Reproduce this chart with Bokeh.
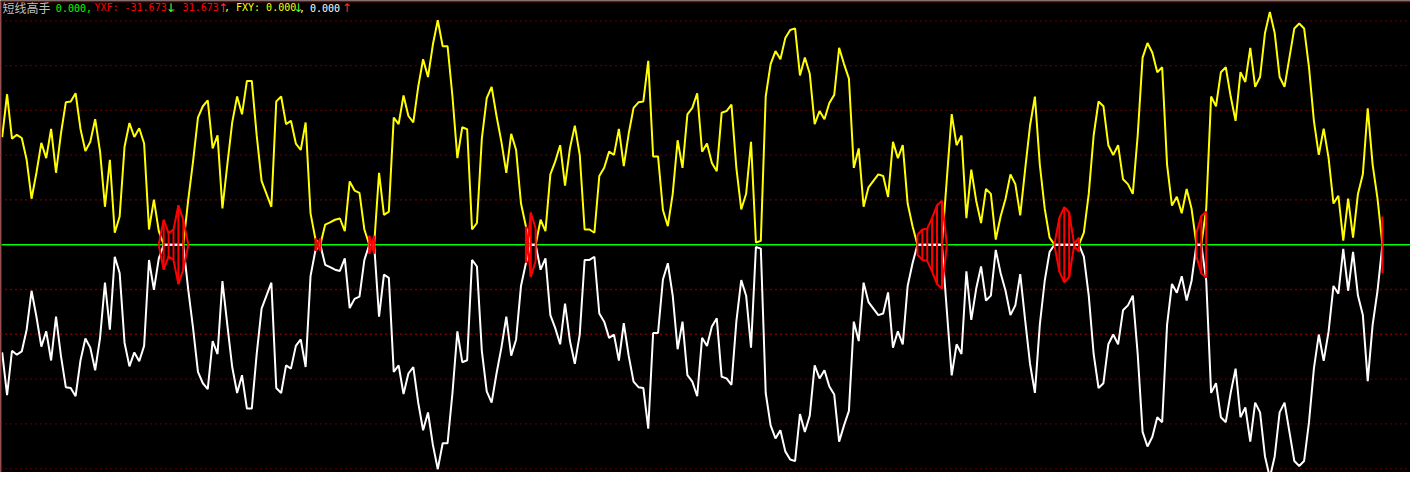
import numpy as np
from bokeh.plotting import figure
from bokeh.models import Range1d, Span, Label, ColumnDataSource
from bokeh.embed import file_html
from bokeh.resources import INLINE

# FXY (yellow line); the white line is its mirror -FXY
fxy = [120.3, 168.1, 118.5, 122.8, 119.2, 94.9, 51.4, 80.4, 113.8, 96.7,
       129.3, 80.4, 123.9, 159.1, 160.1, 169.2, 129.3, 104.7, 114.9, 140.2,
       104.0, 42.4, 94.9, 13.4, 31.5, 109.4, 135.9, 120.3, 130.1, 113.0,
       17.0, 50.4, 15.2, 0, 0, 0, 0, 0, 49.6, 93.1,
       142.0, 154.7, 161.2, 107.6, 122.1, 40.6, 89.5, 136.6, 165.6, 145.7,
       183.0, 183.0, 122.1, 71.4, 56.9, 42.4, 160.1, 165.6, 134.8, 138.4,
       113.0, 105.8, 136.6, 35.1, 6.2, 0, 22.5, 25.0, 27.9, 29.3,
       15.2, 70.7, 60.5, 58.0, 17.0, 0, 0, 80.4, 33.3, 37.0,
       142.0, 134.8, 166.7, 143.8, 136.6, 176.4, 207.2, 187.3, 223.6, 250.7,
       221.7, 221.7, 165.6, 96.7, 131.2, 129.0, 17.0, 24.3, 118.5, 163.8,
       176.4, 143.8, 114.9, 80.4, 123.9, 105.8, 46.0, 20.7, 0, 0,
       27.9, 15.2, 78.6, 93.1, 111.2, 65.9, 107.6, 133.0, 100.4, 17.0,
       17.0, 13.4, 76.8, 85.9, 104.0, 100.4, 129.3, 87.7, 123.9, 152.9,
       159.1, 160.1, 205.4, 98.6, 98.6, 38.8, 20.7, 56.9, 116.7, 85.9,
       145.7, 152.9, 169.2, 104.0, 113.0, 91.3, 82.2, 147.5, 149.3, 156.5,
       85.9, 39.5, 56.9, 114.9, 2.5, 4.3, 165.6, 201.8, 216.3, 207.2,
       230.8, 239.9, 241.7, 189.1, 209.1, 190.9, 134.8, 149.3, 140.2, 158.3,
       167.4, 219.9, 201.8, 185.5, 85.9, 107.6, 42.4, 64.1, 71.4, 78.6,
       76.8, 53.3, 114.9, 96.7, 111.2, 46.0, 20.7, 0, 0, 0,
       0, 0, 0, 73.2, 145.9, 111.2, 122.0, 29.7, 84.0, 49.2,
       24.2, 62.3, 56.8, 5.8, 31.8, 51.4, 78.6, 67.7, 32.9, 84.0,
       132.9, 165.5, 89.5, 40.5, 7.9, 0, 0, 0, 0, 0,
       0, 13.4, 56.8, 122.0, 160.0, 154.7, 111.2, 100.3, 111.2, 73.2,
       67.7, 56.8, 122.0, 209.0, 225.3, 214.5, 192.7, 198.2, 89.5, 43.8,
       53.6, 35.1, 62.3, 40.5, 0, 0, 40.0, 165.5, 154.7, 192.7,
       198.2, 165.5, 138.4, 192.7, 181.8, 219.9, 176.4, 187.3, 236.2, 260.1,
       236.2, 187.3, 176.4, 209.0, 241.6, 247.1, 241.6, 198.2, 138.4, 100.3,
       129.7, 97.1, 46.0, 54.7, 4.7, 51.4, 7.9, 56.8, 78.6, 152.4,
       89.5, 51.4, 0]

# YXF (red), only defined on a few bars; drawn as +YXF / -YXF with sticks
yxf_idx = [32, 33, 34, 35, 36, 37, 38,
           64, 65,
           75, 76,
           107, 108, 109,
           187, 188, 189, 190, 191, 192, 193,
           215, 216, 217, 218, 219, 220,
           244, 245, 246,
           282]
yxf_val = [1, 27.8, 13, 17, 44, 27.8, 1,
           7, -7,
           10, -10,
           20, -36, -18,
           11, 17, 18, 30, 44, 49, 1,
           1, 30, 42, 36, 1, 8,
           13, 32, 37,
           31.673]

grid_dim = [250, 200, 150, 100, -150, -200, -250]
grid_bright = [50, -50, -100]

n = len(fxy)
bars = np.arange(n)
yel = np.array(fxy, dtype=float)
red = np.full(n, np.nan)
red[yxf_idx] = yxf_val

px0, pxstep = 1.7, 4.95          # bar 0 position and bar spacing (reference px)
W_REF = 1426
x_start = -px0 / pxstep
x_end = (W_REF - px0) / pxstep

p = figure(width=1410, height=472, output_backend="svg", toolbar_location=None,
           x_range=Range1d(x_start, x_end), y_range=Range1d(-254.4, 272.8),
           x_axis_location=None, y_axis_location=None, min_border=0,
           background_fill_color="black", border_fill_color="black",
           outline_line_color=None)
p.grid.visible = False

for g in grid_dim:
    p.add_layout(Span(location=g, dimension="width", line_color="#A00000",
                      line_width=1.3, line_dash="1 4", level="underlay"))
for g in grid_bright:
    p.add_layout(Span(location=g, dimension="width", line_color="#E00000",
                      line_width=1.3, line_dash="1 4", level="underlay"))
p.add_layout(Span(location=0, dimension="width", line_color="#00FF00",
                  line_width=1.6, level="underlay"))

src = ColumnDataSource(dict(x=bars, y=yel, w=-yel, r=red, rn=-red))
p.line("x", "y", source=src, line_color="#FFFF00", line_width=2)
p.line("x", "w", source=src, line_color="#FFFFFF", line_width=2)

mask = ~np.isnan(red)
p.segment(x0=bars[mask], y0=-red[mask], x1=bars[mask], y1=red[mask],
          line_color="#FF0000", line_width=2)
p.line("x", "r", source=src, line_color="#FF0000", line_width=2)
p.line("x", "rn", source=src, line_color="#FF0000", line_width=2)

# borders
p.add_layout(Span(location=(0.5 - px0) / pxstep, dimension="height",
                  line_color="#C00000", line_width=1.5, level="overlay"))
p.add_layout(Span(location=271.6, dimension="width",
                  line_color="#A00000", line_width=1.5, level="overlay"))

# header
header = [
    ("短线高手", 2, "#C0C0C0", "Noto Sans CJK SC", "12px"),
    ("0.000,", 56, "#00FF00", "DejaVu Sans Mono", "10px"),
    ("YXF: -31.673", 95, "#FF0000", "DejaVu Sans Mono", "10px"),
    ("↓", 167, "#40FF40", "DejaVu Sans", "12px"),
    (", 31.673", 172, "#FF0000", "DejaVu Sans Mono", "10px"),
    ("↑", 220, "#FF3030", "DejaVu Sans", "12px"),
    (", FXY: 0.000", 226, "#FFFF00", "DejaVu Sans Mono", "10px"),
    ("↓", 296, "#40FF40", "DejaVu Sans", "12px"),
    (",", 302, "#FFFF80", "DejaVu Sans Mono", "10px"),
    ("0.000", 313, "#FFFFFF", "DejaVu Sans Mono", "10px"),
    ("↑", 345, "#FF3030", "DejaVu Sans", "12px"),
]
for txt, xpx, col, font, size in header:
    p.add_layout(Label(x=(xpx - px0) / pxstep, y=264.6, text=txt,
                       text_color=col, text_font=font, text_font_size=size,
                       text_baseline="middle", text_align="left"))

open("out.html", "w").write(file_html(p, INLINE))
